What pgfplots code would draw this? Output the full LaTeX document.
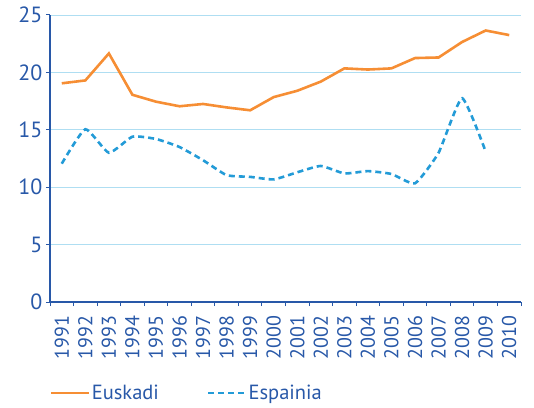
\documentclass[border=0pt]{standalone}
\usepackage{fontspec}
\setmainfont{PT Sans}
\usepackage{pgfplots}
\pgfplotsset{compat=1.18}
\definecolor{txtblue}{RGB}{40,88,168}
\definecolor{gridblue}{RGB}{175,222,242}
\definecolor{eusk}{RGB}{246,142,52}
\definecolor{esp}{RGB}{35,155,215}
\begin{document}
\begin{tikzpicture}
\begin{axis}[
  scale only axis, width=471pt, height=287pt,
  xmin=-0.5, xmax=19.5, ymin=0, ymax=25,
  axis x line*=bottom, axis y line*=left,
  axis line style={-, txtblue, line width=1.8pt},
  xtick={0,1,...,19},
  xticklabels={1991,1992,1993,1994,1995,1996,1997,1998,1999,2000,2001,2002,2003,2004,2005,2006,2007,2008,2009,2010},
  minor xtick={-0.5,0.5,...,19.5},
  major x tick style={draw=none},
  minor tick length=4pt, major tick length=4pt,
  tick align=outside,
  tick style={txtblue, line width=1pt},
  ytick={0,5,...,25},
  ymajorgrids, grid style={gridblue, line width=0.9pt},
  /pgf/number format/assume math mode=true,
  xticklabel style={font=\fontsize{20}{20}\selectfont, text=txtblue, rotate=90, anchor=east},
  yticklabel style={font=\fontsize{22}{22}\selectfont, text=txtblue},
  xticklabel shift=6pt,
  legend columns=2,
  legend style={draw=none, fill=none, at={(axis description cs:0,0)}, anchor=west, yshift=-91pt, inner sep=0pt,
    font=\fontsize{20.5}{20.5}\selectfont, text=txtblue,
    /tikz/every even column/.append style={column sep=46pt}},
  legend image code/.code={\draw[#1] (0pt,0pt) -- (37pt,0pt);},
]
\addplot[eusk, line width=2.6pt] coordinates {
(0,19.05) (1,19.3) (2,21.65) (3,18.05) (4,17.45) (5,17.05) (6,17.25) (7,16.95) (8,16.7) (9,17.85)
(10,18.4) (11,19.2) (12,20.35) (13,20.25) (14,20.35) (15,21.25) (16,21.3) (17,22.65) (18,23.65) (19,23.25)};
\addlegendentry{Euskadi}
\addplot[esp, line width=2.6pt, dash pattern=on 6pt off 4pt, smooth, tension=0.3] coordinates {
(0,12.05) (1,15.05) (2,13.0) (3,14.4) (4,14.2) (5,13.5) (6,12.35) (7,11.05) (8,10.9) (9,10.68)
(10,11.3) (11,11.85) (12,11.2) (13,11.4) (14,11.15) (15,10.34) (16,13.0) (17,17.75) (18,13.1)};
\addlegendentry{Espainia}
\end{axis}
\path[use as bounding box] (current axis.south west) ++(-50pt,-105pt) rectangle ([xshift=13pt,yshift=15pt]current axis.north east);
\end{tikzpicture}
\end{document}
